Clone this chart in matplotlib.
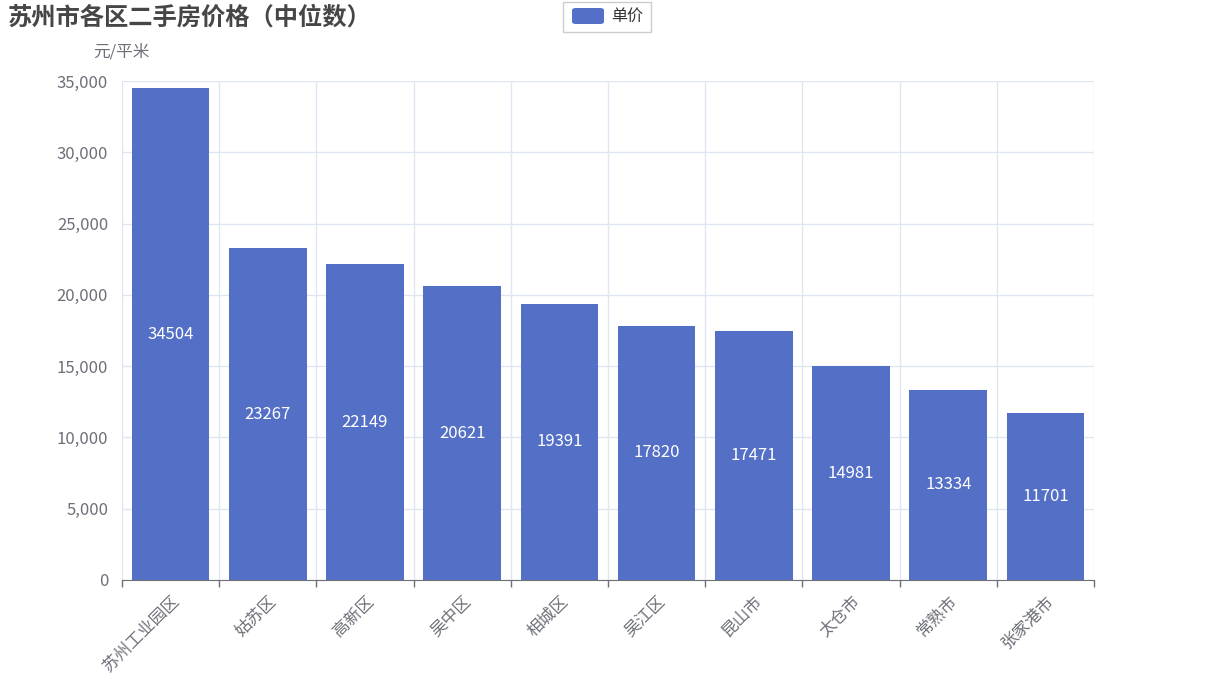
import matplotlib
matplotlib.use("Agg")
import matplotlib.pyplot as plt
from matplotlib.ticker import FuncFormatter, FixedLocator
from matplotlib.patches import FancyBboxPatch

plt.rcParams['font.family'] = ['Noto Sans CJK SC', 'DejaVu Sans']

districts = ["苏州工业园区", "姑苏区", "高新区", "吴中区", "相城区", "吴江区", "昆山市", "太仓市", "常熟市", "张家港市"]
prices = [34504, 23267, 22149, 20621, 19391, 17820, 17471, 14981, 13334, 11701]
y_ticks = [0, 5000, 10000, 15000, 20000, 25000, 30000, 35000]

W, H = 1214, 674
fig = plt.figure(figsize=(W / 100, H / 100), dpi=100)
ax = fig.add_axes([122 / W, (H - 580) / H, (1094 - 122) / W, (580 - 81) / H])

bar_color = "#5470c6"
grid_color = "#e0e6f1"
text_color = "#6e7079"

x = list(range(len(districts)))
ax.bar(x, prices, width=0.8, color=bar_color, zorder=3)
for xi, v in zip(x, prices):
    ax.text(xi, v / 2, str(v), ha="center", va="center", color="white", fontsize=12, zorder=4)

ax.set_xlim(-0.5, len(districts) - 0.5)
ax.set_ylim(0, 35000)
ax.set_yticks(y_ticks)
ax.yaxis.set_major_formatter(FuncFormatter(lambda v, p: f"{int(v):,}"))
ax.tick_params(axis="y", length=0, labelsize=12, labelcolor=text_color, pad=10)
ax.grid(axis="y", color=grid_color, linewidth=1, zorder=0)

ax.set_xticks(x)
ax.set_xticklabels(districts, rotation=45, ha="right", rotation_mode="anchor")
ax.tick_params(axis="x", which="major", length=0, labelsize=12, labelcolor=text_color, pad=9)
ax.xaxis.set_minor_locator(FixedLocator([i - 0.5 for i in range(len(districts) + 1)]))
ax.tick_params(axis="x", which="minor", length=5, color=text_color, width=1)
ax.grid(axis="x", which="minor", color=grid_color, linewidth=1, zorder=0)

for s in ["top", "right", "left"]:
    ax.spines[s].set_visible(False)
ax.spines["bottom"].set_color(text_color)
ax.spines["bottom"].set_zorder(5)

fig.text(8 / W, 1 - 18 / H, "苏州市各区二手房价格（中位数）", fontsize=17.5, fontweight="bold",
         color="#464646", ha="left", va="center")
fig.text(93 / W, 1 - 52 / H, "元/平米", fontsize=12, color=text_color, ha="left", va="center")

# legend
box = FancyBboxPatch((563 / W, 1 - 32 / H), 88 / W, 30 / H, boxstyle="square,pad=0",
                     transform=fig.transFigure, facecolor="white", edgecolor="#cccccc", linewidth=1)
fig.patches.append(box)
swatch = FancyBboxPatch((572 / W, 1 - 24 / H), 32 / W, 16 / H,
                        boxstyle=f"round,pad=0,rounding_size={4 / W}",
                        transform=fig.transFigure, facecolor=bar_color, edgecolor="none")
fig.patches.append(swatch)
fig.text(611 / W, 1 - 16 / H, "单价", fontsize=11.5, color="#333333", ha="left", va="center")

fig.savefig("out.png", dpi=100)
